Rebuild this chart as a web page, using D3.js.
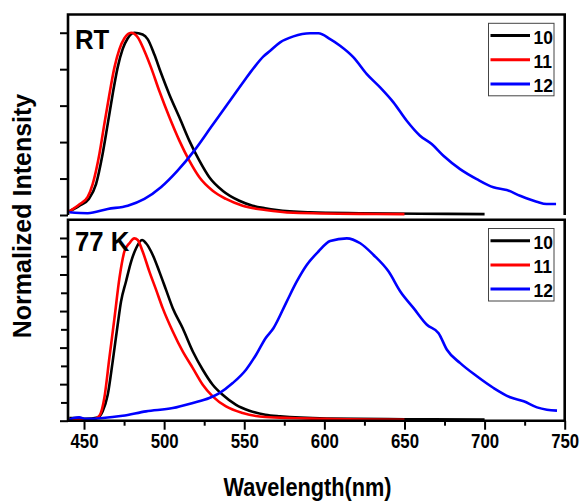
<!DOCTYPE html>
<html>
<head>
<meta charset="utf-8">
<script src="https://cdn.jsdelivr.net/npm/d3@7"></script>
<style>
  body { margin: 0; background: #fff; }
  svg { display: block; font-family: "Liberation Sans", Arial, sans-serif; font-weight: bold; }
</style>
</head>
<body>
<svg width="581" height="502"></svg>
<script>
// wavelength (nm), normalized intensity
const rt10 = [[440.8,0.02],[447,0.05],[453,0.088],[457.5,0.17],[461.6,0.335],[464.8,0.5],[467.9,0.664],[471,0.81],[474.1,0.91],[477.3,0.97],[481.4,1.0],[486.6,0.99],[489.7,0.965],[493.9,0.88],[498,0.78],[503.3,0.66],[509.5,0.536],[515.7,0.408],[522,0.298],[528.2,0.207],[536.5,0.133],[546.9,0.078],[555.2,0.051],[563,0.037],[570.3,0.027],[591,0.015],[622,0.01],[660,0.007],[700,0.005]];
const rt11 = [[440.8,0.02],[447,0.058],[452.3,0.1],[455.4,0.17],[459.6,0.335],[462.7,0.5],[465.8,0.66],[469,0.81],[472.1,0.91],[475.2,0.97],[479.4,1.0],[483.5,0.975],[487.7,0.9],[491.8,0.81],[497,0.68],[503.3,0.536],[509.5,0.408],[515.7,0.298],[522,0.207],[530.3,0.133],[538.6,0.088],[549,0.051],[563.2,0.027],[580.6,0.012],[622,0.006],[650,0.005]];
const rt12 = [[440.8,0.015],[452.3,0.01],[464.8,0.033],[477.3,0.051],[487.7,0.088],[498,0.152],[508.4,0.243],[518.8,0.353],[529.2,0.481],[539.6,0.609],[550,0.737],[556.2,0.81],[562,0.87],[566.2,0.901],[572.4,0.947],[580.7,0.98],[591.1,0.997],[596.3,0.997],[603.6,0.965],[609.8,0.929],[618.2,0.865],[626.5,0.773],[634.8,0.7],[643.1,0.618],[651.4,0.517],[659.7,0.435],[667,0.389],[674.3,0.325],[684.7,0.252],[695.1,0.197],[705.5,0.152],[713.8,0.137],[722.1,0.106],[732.5,0.073],[738.7,0.06],[744.6,0.06]];

const k10 = [[440.8,0.015],[446,0.015],[451.2,0.01],[458.5,0.018],[461.6,0.051],[464.8,0.142],[467.9,0.325],[471,0.525],[473.1,0.652],[476.2,0.762],[479.4,0.871],[482.5,0.944],[486.2,0.989],[488.7,0.971],[492.9,0.907],[497,0.816],[501.2,0.716],[505.4,0.616],[511.6,0.506],[517.9,0.379],[524.1,0.279],[530.3,0.197],[536.5,0.142],[544.9,0.087],[553.2,0.055],[563.2,0.033],[572.4,0.024],[601.5,0.012],[650,0.008],[700,0.006]];
const k11 = [[440.8,0.005],[455.4,0.005],[459.6,0.027],[462.7,0.126],[465.8,0.342],[469,0.561],[472.1,0.78],[475.2,0.926],[478.3,0.971],[481.4,0.998],[483.5,0.989],[486.6,0.926],[490.8,0.816],[495,0.716],[499.1,0.616],[505.4,0.488],[511.6,0.379],[517.9,0.288],[524.1,0.197],[530.3,0.133],[538.6,0.078],[549,0.042],[563.2,0.02],[600,0.01],[650,0.005]];
const k12 = [[440.8,0.005],[443.5,0.015],[447,0.018],[451,0.01],[474.1,0.027],[488.7,0.051],[505.4,0.069],[517.9,0.097],[528.2,0.124],[534.5,0.151],[542.8,0.206],[551.1,0.279],[557.4,0.361],[563.2,0.45],[568.2,0.506],[576.5,0.652],[582.8,0.762],[589,0.852],[596.3,0.926],[603.6,0.984],[614,0.998],[622.4,0.971],[630.7,0.907],[640.1,0.816],[647.4,0.707],[655.7,0.616],[664,0.525],[671.3,0.479],[676.5,0.388],[684.8,0.315],[695.2,0.243],[705.6,0.179],[716,0.128],[724.4,0.106],[732.7,0.073],[738.9,0.06],[745.2,0.055]];

const names = ["10", "11", "12"];
const colors = ["#000000", "#ff0000", "#0000ff"];
const panelLabels = ["RT", "77 K"];
const xMajor = [450, 500, 550, 600, 650, 700, 750];
const xMinor = [475, 525, 575, 625, 675, 725];
const yMajor = [0, 0.2, 0.4, 0.6, 0.8, 1.0];
const yMinor = [0.1, 0.3, 0.5, 0.7, 0.9];

var svg = d3.select("svg");

var x = d3.scaleLinear().domain([440, 750]).range([68, 564.7]);
var yTop = d3.scaleLinear().domain([0, 1.1]).range([215, 14.5]);
var yBot = d3.scaleLinear().domain([0, 1.1]).range([420.7, 219.7]);

function drawPanel(y, series, label, legendTop, full) {
	var g = svg.append("g");
	var line = d3.line()
		.x(d => x(d[0]))
		.y(d => y(d[1]))
		.curve(d3.curveMonotoneX);

	series.forEach((s, i) => {
		g.append("path")
			.attr("d", line(s))
			.attr("fill", "none")
			.attr("stroke", colors[i])
			.attr("stroke-width", 2.6)
			.attr("stroke-linejoin", "round");
	});

	// left ticks
	var ax = g.append("g")
		.attr("transform", "translate(" + x.range()[0] + ",0)")
		.call(d3.axisLeft(y).tickValues(yMajor).tickSize(8).tickFormat(""));
	ax.select(".domain").remove();
	ax.selectAll("line").attr("stroke-width", 2);
	if (full) {
		var axm = g.append("g")
			.attr("transform", "translate(" + x.range()[0] + ",0)")
			.call(d3.axisLeft(y).tickValues(yMinor).tickSize(7).tickFormat(""));
		axm.select(".domain").remove();
		axm.selectAll("line").attr("stroke-width", 2);
	}

	// frame
	var x0 = x.range()[0], x1 = x.range()[1], y0 = y.range()[0], y1 = y.range()[1];
	var frame = full
		? `M${x0},${y0}V${y1}H${x1}V${y0}Z`
		: `M${x0},${y0}V${y1}H${x1}V${y0}`;
	g.append("path")
		.attr("d", frame)
		.attr("fill", "none")
		.attr("stroke", "#000")
		.attr("stroke-width", 2.6);

	g.append("text")
		.attr("transform", `translate(${x0 + 7},${y1 + (full ? 31.5 : 34.5)}) scale(0.92,1)`)
		.attr("font-size", 28)
		.text(label);

	// legend
	var lg = g.append("g").attr("transform", `translate(488.5,${legendTop})`);
	lg.append("rect")
		.attr("width", 65.5).attr("height", 72.5)
		.attr("fill", "#fff")
		.attr("stroke", "#444").attr("stroke-width", 1);
	names.forEach((n, i) => {
		var ry = 12.2 + i * 24.2;
		lg.append("line")
			.attr("x1", 2).attr("x2", 41.5)
			.attr("y1", ry).attr("y2", ry)
			.attr("stroke", colors[i]).attr("stroke-width", 3);
		lg.append("text")
			.attr("transform", `translate(45,${ry + 8}) scale(0.92,1)`)
			.attr("font-size", 19)
			.text(n);
	});
	return g;
}

drawPanel(yTop, [rt10, rt11, rt12], panelLabels[0], 23.3, false);
drawPanel(yBot, [k10, k11, k12], panelLabels[1], 228.5, true);

// bottom axis
var xa = svg.append("g")
	.attr("transform", "translate(0," + yBot.range()[0] + ")")
	.call(d3.axisBottom(x).tickValues(xMajor).tickSize(9).tickPadding(3).tickFormat(d3.format("d")));
xa.select(".domain").remove();
xa.selectAll("line").attr("stroke-width", 2);
xa.selectAll("text")
	.attr("font-size", 21)
	.attr("font-family", "Liberation Sans, Arial, sans-serif")
	.attr("font-weight", "bold")
	.attr("fill", "#000")
	.attr("transform", "scale(0.8,1)");
var xm = svg.append("g")
	.attr("transform", "translate(0," + yBot.range()[0] + ")")
	.call(d3.axisBottom(x).tickValues(xMinor).tickSize(5).tickFormat(""));
xm.select(".domain").remove();
xm.selectAll("line").attr("stroke-width", 2);

svg.append("text")
	.attr("transform", "translate(307.5,495.5) scale(0.82,1)")
	.attr("text-anchor", "middle")
	.attr("font-size", 26.5)
	.text("Wavelength(nm)");

svg.append("text")
	.attr("transform", "translate(31,216) rotate(-90)")
	.attr("text-anchor", "middle")
	.attr("font-size", 25)
	.text("Normalized Intensity");
</script>
</body>
</html>
